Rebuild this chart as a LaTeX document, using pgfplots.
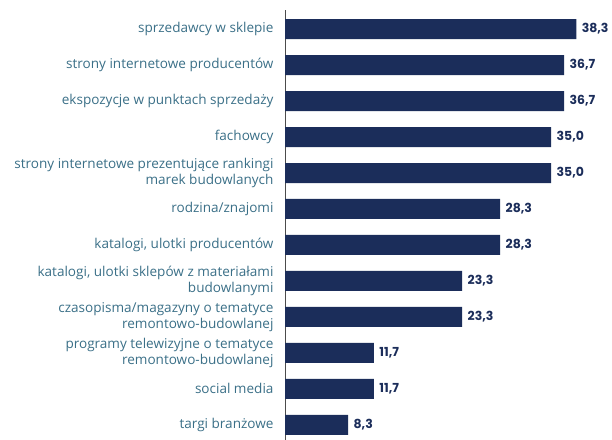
\documentclass[border=0pt]{standalone}
\usepackage{fontspec}
\setmainfont{Open Sans}
\newfontfamily\valfont{Poppins}
\usepackage{pgfplots}
\pgfplotsset{compat=1.18}
\definecolor{barnavy}{HTML}{1B2D5A}
\definecolor{labteal}{HTML}{3A6F87}
\begin{document}
\begin{tikzpicture}
\path[use as bounding box] (0,0) rectangle (612bp,440bp);
\begin{axis}[
    at={(285bp,0bp)}, anchor=south west,
    scale only axis,
    width=327bp, height=430bp,
    xbar, bar width=20bp,
    xmin=0, xmax=43,
    ymin=-0.53, ymax=11.42,
    y dir=reverse,
    axis x line=none,
    axis y line*=left,
    y axis line style={draw=black!70, line width=0.8pt},
    ytick={0,...,11},
    major tick length=0pt,
    yticklabels={
        sprzedawcy w sklepie,
        strony internetowe producentów,
        ekspozycje w punktach sprzedaży,
        fachowcy,
        {strony internetowe prezentujące rankingi\\marek budowlanych},
        rodzina/znajomi,
        {katalogi, ulotki producentów},
        {katalogi, ulotki sklepów z materiałami\\budowlanymi},
        {czasopisma/magazyny o tematyce\\remontowo-budowlanej},
        {programy telewizyjne o tematyce\\remontowo-budowlanej},
        social media,
        targi branżowe},
    yticklabel style={align=right, font=\fontsize{13.6}{15.5}\selectfont,
        text=labteal, xshift=-8bp, inner ysep=0pt},
    nodes near coords,
    nodes near coords style={font=\valfont\bfseries\fontsize{12.5}{14}\selectfont,
        text=barnavy, xshift=2bp},
    /pgf/number format/.cd, use comma, fixed, fixed zerofill, precision=1,
    assume math mode=true,
]
\addplot[fill=barnavy, draw=none] coordinates {
    (38.3,0) (36.7,1) (36.7,2) (35.0,3) (35.0,4) (28.3,5)
    (28.3,6) (23.3,7) (23.3,8) (11.7,9) (11.7,10) (8.3,11)};
\end{axis}
\end{tikzpicture}
\end{document}
